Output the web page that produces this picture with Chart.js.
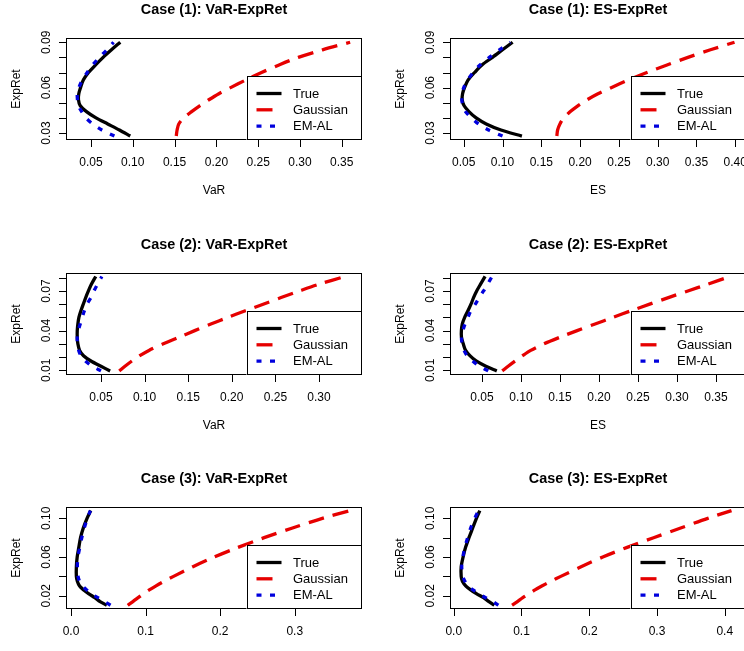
<!DOCTYPE html>
<html>
<head>
<meta charset="utf-8">
<script src="https://cdn.jsdelivr.net/npm/chart.js@4.4.1/dist/chart.umd.min.js"></script>
<style>
  html, body { margin: 0; padding: 0; background: #fff; }
  body { width: 744px; height: 651px; overflow: hidden; position: relative; }
  canvas { position: absolute; }
</style>
</head>
<body>
<canvas id="p1" width="384" height="235" style="left:0;top:0"></canvas>
<canvas id="p2" width="384" height="235" style="left:384px;top:0"></canvas>
<canvas id="p3" width="384" height="235" style="left:0;top:235px"></canvas>
<canvas id="p4" width="384" height="235" style="left:384px;top:235px"></canvas>
<canvas id="p5" width="384" height="235" style="left:0;top:469px"></canvas>
<canvas id="p6" width="384" height="235" style="left:384px;top:469px"></canvas>
<script>
// expected-return grid for each case
var ret1 = [0.028, 0.032, 0.036, 0.040, 0.044, 0.048, 0.052, 0.056, 0.060, 0.065, 0.070, 0.075, 0.080, 0.085, 0.090];
var ret2 = [0.0095, 0.013, 0.017, 0.021, 0.025, 0.030, 0.035, 0.040, 0.045, 0.050, 0.055, 0.060, 0.065, 0.070, 0.075, 0.081];
var ret3 = [0.0102, 0.014, 0.018, 0.022, 0.026, 0.030, 0.035, 0.040, 0.050, 0.060, 0.070, 0.080, 0.090, 0.100, 0.108];

// case 1
var var1True  = [0.097, 0.084, 0.070, 0.056, 0.045, 0.0372, 0.0350, 0.0354, 0.0375, 0.0408, 0.047, 0.0555, 0.0645, 0.0745, 0.085];
var var1Gauss = [0.152, 0.153, 0.155, 0.161, 0.170, 0.180, 0.191, 0.203, 0.217, 0.235, 0.254, 0.275, 0.298, 0.327, 0.360];
var var1EmAl  = [0.078, 0.063, 0.052, 0.044, 0.039, 0.035, 0.0338, 0.0336, 0.0355, 0.0395, 0.0455, 0.052, 0.060, 0.069, 0.077];
var es1True   = [0.125, 0.098, 0.079, 0.066, 0.057, 0.0505, 0.048, 0.0485, 0.051, 0.0555, 0.064, 0.0735, 0.087, 0.100, 0.113];
var es1Gauss  = [0.170, 0.171, 0.174, 0.179, 0.187, 0.197, 0.209, 0.223, 0.240, 0.262, 0.286, 0.312, 0.339, 0.368, 0.399];
var es1EmAl   = [0.100, 0.082, 0.069, 0.060, 0.0525, 0.049, 0.0475, 0.048, 0.050, 0.055, 0.062, 0.071, 0.083, 0.096, 0.110];

// case 2
var var2True  = [0.0605, 0.050, 0.0385, 0.030, 0.0255, 0.0235, 0.0228, 0.0228, 0.0235, 0.0247, 0.027, 0.0297, 0.0325, 0.0356, 0.039, 0.044];
var var2Gauss = [0.071, 0.0775, 0.0855, 0.0945, 0.105, 0.1215, 0.1395, 0.1575, 0.176, 0.1955, 0.2155, 0.236, 0.2565, 0.2775, 0.2995, 0.330];
var var2EmAl  = [0.050, 0.040, 0.032, 0.027, 0.0245, 0.023, 0.0228, 0.024, 0.0262, 0.0285, 0.031, 0.034, 0.0385, 0.042, 0.046, 0.051];
var es2True   = [0.069, 0.055, 0.0425, 0.0345, 0.029, 0.026, 0.0237, 0.0236, 0.0248, 0.0278, 0.032, 0.0359, 0.0392, 0.0432, 0.048, 0.054];
var es2Gauss  = [0.076, 0.0835, 0.0925, 0.102, 0.1125, 0.1295, 0.150, 0.172, 0.195, 0.218, 0.241, 0.265, 0.289, 0.314, 0.339, 0.368];
var es2EmAl   = [0.058, 0.047, 0.038, 0.031, 0.027, 0.0245, 0.0237, 0.0255, 0.0283, 0.032, 0.0357, 0.0415, 0.0465, 0.052, 0.057, 0.063];

// case 3
var var3True  = [0.048, 0.039, 0.032, 0.024, 0.017, 0.0115, 0.0085, 0.0072, 0.0072, 0.0083, 0.0105, 0.0128, 0.0165, 0.0215, 0.0265];
var var3Gauss = [0.076, 0.083, 0.090, 0.097, 0.105, 0.1135, 0.125, 0.1375, 0.1635, 0.192, 0.224, 0.259, 0.297, 0.337, 0.374];
var var3EmAl  = [0.053, 0.045, 0.036, 0.0275, 0.021, 0.0155, 0.0115, 0.0095, 0.0085, 0.0093, 0.0118, 0.0145, 0.0178, 0.022, 0.026];
var es3True   = [0.060, 0.052, 0.044, 0.034, 0.025, 0.018, 0.0128, 0.011, 0.011, 0.0138, 0.0175, 0.0225, 0.028, 0.0335, 0.0385];
var es3Gauss  = [0.086, 0.094, 0.102, 0.111, 0.120, 0.130, 0.1435, 0.158, 0.188, 0.220, 0.256, 0.295, 0.335, 0.375, 0.410];
var es3EmAl   = [0.066, 0.058, 0.047, 0.037, 0.0285, 0.021, 0.0165, 0.0135, 0.0118, 0.0135, 0.0165, 0.0205, 0.025, 0.031, 0.0365];

// axis ticks
var xTicksVaR1 = [0.05, 0.10, 0.15, 0.20, 0.25, 0.30, 0.35];
var xTicksES1  = [0.05, 0.10, 0.15, 0.20, 0.25, 0.30, 0.35, 0.40];
var xTicksVaR2 = [0.05, 0.10, 0.15, 0.20, 0.25, 0.30];
var xTicksES2  = [0.05, 0.10, 0.15, 0.20, 0.25, 0.30, 0.35];
var xTicksVaR3 = [0.0, 0.1, 0.2, 0.3];
var xTicksES3  = [0.0, 0.1, 0.2, 0.3, 0.4];
var yTicks1 = [0.03, 0.04, 0.05, 0.06, 0.07, 0.08, 0.09];
var yTicks2 = [0.01, 0.02, 0.03, 0.04, 0.05, 0.06, 0.07, 0.08];
var yTicks3 = [0.02, 0.04, 0.06, 0.08, 0.10];
var yLabels1 = [0.03, 0.06, 0.09];
var yLabels2 = [0.01, 0.04, 0.07];
var yLabels3 = [0.02, 0.06, 0.10];

var seriesNames = ['True', 'Gaussian', 'EM-AL'];
var seriesColors = ['#000000', '#e60000', '#0000dd'];
var seriesDash = [[], [16, 9], [5, 8.5]];

var panels = [
  { id: 'p1', title: 'Case (1): VaR-ExpRet', xTitle: 'VaR', ret: ret1, series: [var1True, var1Gauss, var1EmAl],
    xLim: [0.0201, 0.3742], yLim: [0.0254, 0.0928], xTicks: xTicksVaR1, xDigits: 2, yTicks: yTicks1, yLabels: yLabels1 },
  { id: 'p2', title: 'Case (1): ES-ExpRet', xTitle: 'ES', ret: ret1, series: [es1True, es1Gauss, es1EmAl],
    xLim: [0.0323, 0.4138], yLim: [0.0254, 0.0928], xTicks: xTicksES1, xDigits: 2, yTicks: yTicks1, yLabels: yLabels1 },
  { id: 'p3', title: 'Case (2): VaR-ExpRet', xTitle: 'VaR', ret: ret2, series: [var2True, var2Gauss, var2EmAl],
    xLim: [0.0099, 0.3493], yLim: [0.0064, 0.0836], xTicks: xTicksVaR2, xDigits: 2, yTicks: yTicks2, yLabels: yLabels2 },
  { id: 'p4', title: 'Case (2): ES-ExpRet', xTitle: 'ES', ret: ret2, series: [es2True, es2Gauss, es2EmAl],
    xLim: [0.009, 0.3885], yLim: [0.0064, 0.0836], xTicks: xTicksES2, xDigits: 2, yTicks: yTicks2, yLabels: yLabels2 },
  { id: 'p5', title: 'Case (3): VaR-ExpRet', xTitle: 'VaR', ret: ret3, series: [var3True, var3Gauss, var3EmAl],
    xLim: [-0.0067, 0.3902], yLim: [0.0063, 0.1117], xTicks: xTicksVaR3, xDigits: 1, yTicks: yTicks3, yLabels: yLabels3 },
  { id: 'p6', title: 'Case (3): ES-ExpRet', xTitle: 'ES', ret: ret3, series: [es3True, es3Gauss, es3EmAl],
    xLim: [-0.0055, 0.4314], yLim: [0.0063, 0.1117], xTicks: xTicksES3, xDigits: 1, yTicks: yTicks3, yLabels: yLabels3 }
];

var FONT = '"Liberation Sans", Arial, sans-serif';

// base-graphics look: box, outside ticks, rotated y labels, titles and bottomright legend
function makeFrame(p) {
  return {
    id: 'rFrame',
    afterDraw: function (chart) {
      var ctx = chart.ctx, a = chart.chartArea;
      var x = chart.scales.x, y = chart.scales.y;
      ctx.save();
      ctx.strokeStyle = '#000';
      ctx.lineWidth = 1;
      ctx.strokeRect(a.left + 0.5, a.top + 0.5, a.right - a.left - 1, a.bottom - a.top - 1);

      ctx.beginPath();
      p.xTicks.forEach(function (v) {
        var px = Math.round(x.getPixelForValue(v)) + 0.5;
        ctx.moveTo(px, a.bottom);
        ctx.lineTo(px, a.bottom + 7);
      });
      p.yTicks.forEach(function (v) {
        var py = Math.round(y.getPixelForValue(v)) + 0.5;
        ctx.moveTo(a.left, py);
        ctx.lineTo(a.left - 7, py);
      });
      ctx.stroke();

      ctx.fillStyle = '#000';
      ctx.font = '12px ' + FONT;
      ctx.textAlign = 'center';
      ctx.textBaseline = 'middle';
      p.xTicks.forEach(function (v) {
        ctx.fillText(v.toFixed(p.xDigits), x.getPixelForValue(v), a.bottom + 23);
      });
      p.yLabels.forEach(function (v) {
        ctx.save();
        ctx.translate(a.left - 19, y.getPixelForValue(v));
        ctx.rotate(-Math.PI / 2);
        ctx.fillText(v.toFixed(2), 0, 0);
        ctx.restore();
      });

      ctx.fillText(p.xTitle, (a.left + a.right) / 2, a.bottom + 51);
      ctx.save();
      ctx.translate(a.left - 49, (a.top + a.bottom) / 2);
      ctx.rotate(-Math.PI / 2);
      ctx.fillText('ExpRet', 0, 0);
      ctx.restore();

      ctx.font = 'bold 14.4px ' + FONT;
      ctx.fillText(p.title, (a.left + a.right) / 2, a.top - 28);

      // legend
      var lw = 115.5, lh = 64;
      var lx = a.right - lw, ly = a.bottom - lh;
      ctx.fillStyle = '#fff';
      ctx.fillRect(lx, ly, lw, lh);
      ctx.strokeStyle = '#000';
      ctx.lineWidth = 1;
      ctx.strokeRect(Math.round(lx) + 0.5, Math.round(ly) + 0.5, a.right - Math.round(lx) - 1, lh - 1);
      ctx.font = '13px ' + FONT;
      ctx.textAlign = 'left';
      chart.data.datasets.forEach(function (ds, i) {
        var yy = ly + 17.5 + i * 16.3;
        ctx.beginPath();
        ctx.setLineDash(ds.borderDash);
        ctx.strokeStyle = ds.borderColor;
        ctx.lineWidth = ds.borderWidth;
        ctx.moveTo(lx + 10, yy);
        ctx.lineTo(lx + 35, yy);
        ctx.stroke();
        ctx.setLineDash([]);
        ctx.fillStyle = '#000';
        ctx.fillText(ds.label, lx + 46.5, yy + 0.5);
      });
      ctx.restore();
    }
  };
}

panels.forEach(function (p) {
  var datasets = p.series.map(function (xs, i) {
    return {
      label: seriesNames[i],
      data: p.ret.map(function (r, k) { return { x: xs[k], y: r }; }),
      showLine: true,
      borderColor: seriesColors[i],
      backgroundColor: seriesColors[i],
      borderWidth: 3.3,
      borderDash: seriesDash[i],
      borderCapStyle: 'butt',
      borderJoinStyle: 'round',
      tension: 0.3,
      pointRadius: 0,
      order: 3 - i
    };
  });

  new Chart(document.getElementById(p.id), {
    type: 'scatter',
    data: { datasets: datasets },
    options: {
      responsive: false,
      animation: false,
      layout: { padding: { left: 66, top: 38, right: 22, bottom: 95 } },
      plugins: { legend: { display: false }, tooltip: { enabled: false } },
      scales: {
        x: { type: 'linear', display: false, min: p.xLim[0], max: p.xLim[1] },
        y: { type: 'linear', display: false, min: p.yLim[0], max: p.yLim[1] }
      }
    },
    plugins: [makeFrame(p)]
  });
});
</script>
</body>
</html>
